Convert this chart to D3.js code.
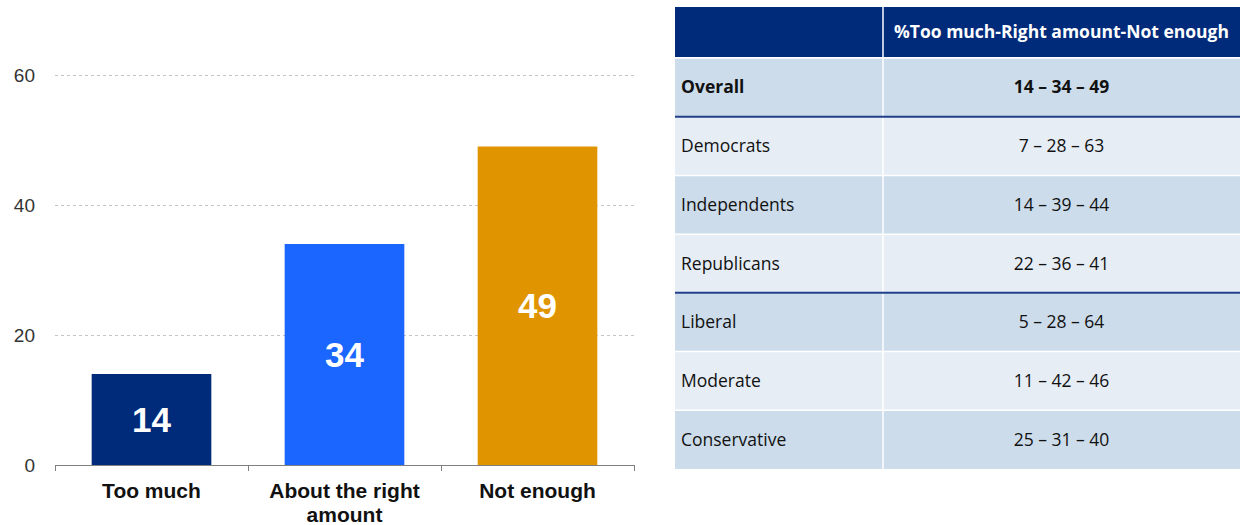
<!DOCTYPE html>
<html>
<head>
<meta charset="utf-8">
<script src="https://cdn.jsdelivr.net/npm/d3@7"></script>
<style>
  body { margin: 0; background: #fff; }
  svg { display: block; }
</style>
</head>
<body>
<div id="chart"></div>
<script>
// Bar chart data
var categories = ["Too much", "About the right amount", "Not enough"];
var values = [14, 34, 49];
var barColors = ["#002b7a", "#1a66ff", "#e09500"];
var yTicks = [0, 20, 40, 60];

// Table data
var tableHeader = "%Too much-Right amount-Not enough";
var groups = ["Overall", "Democrats", "Independents", "Republicans", "Liberal", "Moderate", "Conservative"];
var tooMuch = [14, 7, 14, 22, 5, 11, 25];
var rightAmount = [34, 28, 39, 36, 28, 42, 31];
var notEnough = [49, 63, 44, 41, 64, 46, 40];

var W = 1240, H = 525;

var svg = d3.select("#chart")
  .append("svg")
  .attr("width", W)
  .attr("height", H);

// ---- bar chart ----
var x = d3.scaleBand()
  .domain(categories)
  .range([55, 634])
  .paddingInner(0.38)
  .paddingOuter(0.19);

var y = d3.scaleLinear()
  .domain([0, 60])
  .range([465, 75]);

var chart = svg.append("g");

// gridlines
chart.selectAll(".grid")
  .data(yTicks.filter(function (d) { return d > 0; }))
  .enter()
  .append("line")
  .attr("x1", 55)
  .attr("x2", 634)
  .attr("y1", function (d) { return y(d) + 0.5; })
  .attr("y2", function (d) { return y(d) + 0.5; })
  .attr("stroke", "#c4c4c4")
  .attr("stroke-dasharray", "3,3");

// y axis labels
var yAxis = chart.append("g")
  .attr("transform", "translate(55,0)")
  .call(d3.axisLeft(y).tickValues(yTicks).tickSize(0).tickPadding(20));
yAxis.select(".domain").remove();
yAxis.selectAll("text")
  .style("font-family", "Liberation Sans, Arial, sans-serif")
  .style("font-size", "19px")
  .attr("fill", "#333");

// bars
chart.selectAll(".bar")
  .data(values)
  .enter()
  .append("rect")
  .attr("x", function (d, i) { return x(categories[i]); })
  .attr("width", x.bandwidth())
  .attr("y", function (d) { return y(d); })
  .attr("height", function (d) { return y(0) - y(d); })
  .attr("fill", function (d, i) { return barColors[i]; });

// value labels
chart.selectAll(".val")
  .data(values)
  .enter()
  .append("text")
  .attr("x", function (d, i) { return x(categories[i]) + x.bandwidth() / 2; })
  .attr("y", function (d) { return (y(d) + y(0)) / 2; })
  .attr("dy", "0.36em")
  .attr("text-anchor", "middle")
  .attr("fill", "#fff")
  .style("font-family", "Liberation Sans, Arial, sans-serif")
  .style("font-weight", "bold")
  .style("font-size", "35px")
  .text(function (d) { return d; });

// x axis baseline with separators
chart.append("line")
  .attr("x1", 55).attr("x2", 634)
  .attr("y1", y(0) + 0.5).attr("y2", y(0) + 0.5)
  .attr("stroke", "#808080");
chart.selectAll(".sep")
  .data(d3.range(categories.length + 1))
  .enter()
  .append("line")
  .attr("x1", function (i) { return Math.round(55 + i * x.step()) + 0.5; })
  .attr("x2", function (i) { return Math.round(55 + i * x.step()) + 0.5; })
  .attr("y1", y(0))
  .attr("y2", y(0) + 6)
  .attr("stroke", "#808080");

// category labels
var catLines = [["Too much"], ["About the right", "amount"], ["Not enough"]];
chart.selectAll(".cat")
  .data(categories)
  .enter()
  .append("text")
  .attr("x", function (d) { return x(d) + x.bandwidth() / 2; })
  .attr("y", 498)
  .attr("text-anchor", "middle")
  .attr("fill", "#111")
  .style("font-family", "Liberation Sans, Arial, sans-serif")
  .style("font-weight", "bold")
  .style("font-size", "21px")
  .each(function (d, i) {
    var t = d3.select(this);
    catLines[i].forEach(function (line, j) {
      t.append("tspan")
        .attr("x", x(d) + x.bandwidth() / 2)
        .attr("dy", j === 0 ? 0 : 24)
        .text(line);
    });
  });

// ---- table ----
var tx0 = 675, tx1 = 883, tx2 = 1240;
var table = svg.append("g");

table.append("rect")
  .attr("x", tx0).attr("y", 7)
  .attr("width", tx2 - tx0).attr("height", 50)
  .attr("fill", "#002b7a");
table.append("line")
  .attr("x1", tx1).attr("x2", tx1)
  .attr("y1", 7).attr("y2", 57)
  .attr("stroke", "#fff").attr("stroke-width", 1.5);
table.append("text")
  .attr("x", (tx1 + tx2) / 2)
  .attr("y", 32)
  .attr("dy", "0.35em")
  .attr("text-anchor", "middle")
  .attr("fill", "#fff")
  .style("font-family", "Open Sans, sans-serif")
  .style("font-weight", "bold")
  .style("font-size", "17.5px")
  .text(tableHeader);

var rowY = d3.scaleBand()
  .domain(groups)
  .range([58, 469]);

var rows = table.selectAll(".row")
  .data(groups)
  .enter()
  .append("g")
  .attr("transform", function (d) { return "translate(0," + rowY(d) + ")"; });

rows.append("rect")
  .attr("x", tx0)
  .attr("width", tx2 - tx0)
  .attr("height", rowY.bandwidth())
  .attr("fill", function (d, i) { return i % 2 === 0 ? "#ccdcea" : "#e6edf5"; });

// white cell borders
rows.append("line")
  .attr("x1", tx0).attr("x2", tx2)
  .attr("y1", 0).attr("y2", 0)
  .attr("stroke", "#fff").attr("stroke-width", 1.5);
rows.append("line")
  .attr("x1", tx1).attr("x2", tx1)
  .attr("y1", 0).attr("y2", rowY.bandwidth())
  .attr("stroke", "#fff").attr("stroke-width", 1.5);

rows.append("text")
  .attr("x", 681)
  .attr("y", rowY.bandwidth() / 2)
  .attr("dy", "0.35em")
  .attr("fill", "#111")
  .style("font-family", "Open Sans, sans-serif")
  .style("font-size", "17.5px")
  .style("font-weight", function (d, i) { return i === 0 ? "bold" : "normal"; })
  .text(function (d) { return d; });

rows.append("text")
  .attr("x", (tx1 + tx2) / 2)
  .attr("y", rowY.bandwidth() / 2)
  .attr("dy", "0.35em")
  .attr("text-anchor", "middle")
  .attr("fill", "#111")
  .style("font-family", "Open Sans, sans-serif")
  .style("font-size", "17.5px")
  .style("font-weight", function (d, i) { return i === 0 ? "bold" : "normal"; })
  .text(function (d, i) { return tooMuch[i] + " \u2013 " + rightAmount[i] + " \u2013 " + notEnough[i]; });

// dark blue separators under Overall and Republicans
table.selectAll(".divider")
  .data(["Overall", "Republicans"])
  .enter()
  .append("line")
  .attr("x1", tx0).attr("x2", tx2)
  .attr("y1", function (d) { return rowY(d) + rowY.bandwidth(); })
  .attr("y2", function (d) { return rowY(d) + rowY.bandwidth(); })
  .attr("stroke", "#1f3f8a").attr("stroke-width", 2);
</script>
</body>
</html>
